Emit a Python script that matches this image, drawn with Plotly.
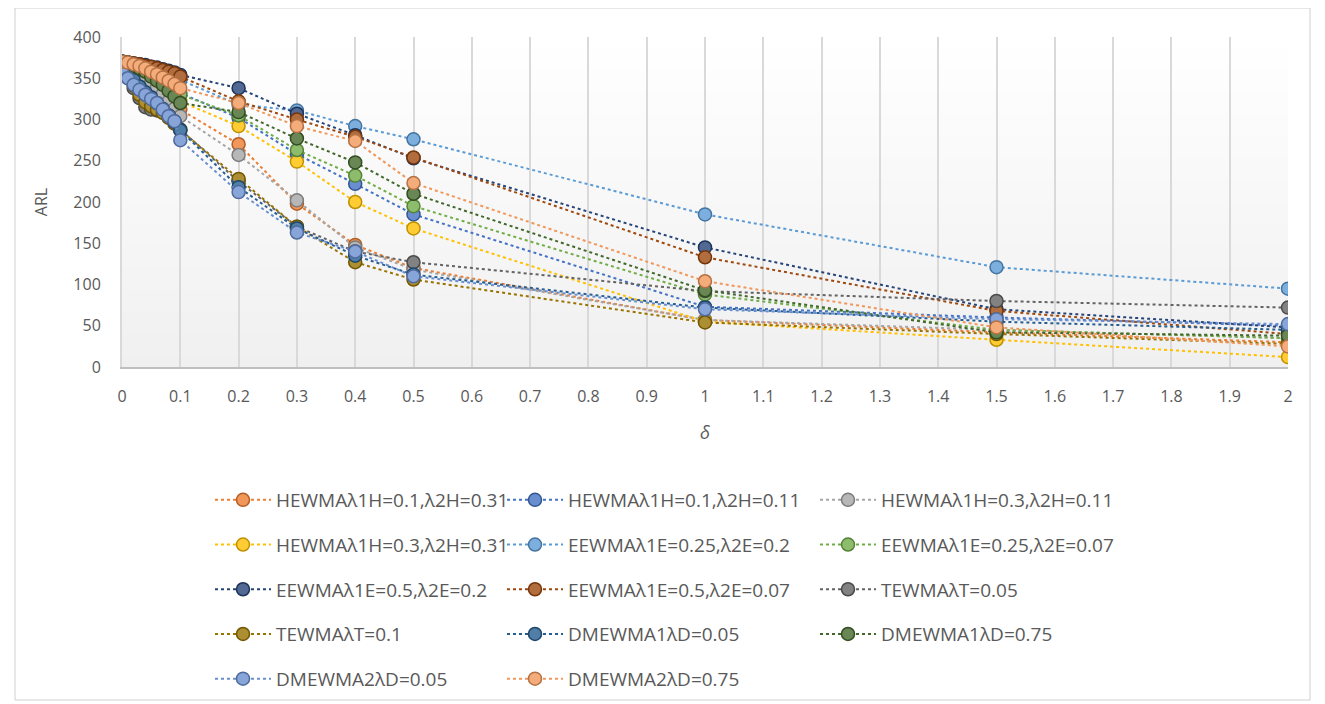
import plotly.graph_objects as go

delta = [0, 0.01, 0.02, 0.03, 0.04, 0.05, 0.06, 0.07, 0.08, 0.09, 0.1, 0.2, 0.3, 0.4, 0.5, 1, 1.5, 2]

series_names = [
    "HEWMA\u03bb1H=0.1,\u03bb2H=0.31",
    "HEWMA\u03bb1H=0.1,\u03bb2H=0.11",
    "HEWMA\u03bb1H=0.3,\u03bb2H=0.11",
    "HEWMA\u03bb1H=0.3,\u03bb2H=0.31",
    "EEWMA\u03bb1E=0.25,\u03bb2E=0.2",
    "EEWMA\u03bb1E=0.25,\u03bb2E=0.07",
    "EEWMA\u03bb1E=0.5,\u03bb2E=0.2",
    "EEWMA\u03bb1E=0.5,\u03bb2E=0.07",
    "TEWMA\u03bbT=0.05",
    "TEWMA\u03bbT=0.1",
    "DMEWMA1\u03bbD=0.05",
    "DMEWMA1\u03bbD=0.75",
    "DMEWMA2\u03bbD=0.05",
    "DMEWMA2\u03bbD=0.75",
]

hewma_01_031 = [370, 368, 366, 364, 361, 358, 354, 349, 343, 336, 312, 270, 198, 148, 120, 57, 42, 30]
hewma_01_011 = [370, 368, 366, 363, 360, 357, 353, 349, 344, 338, 332, 302, 258, 222, 185, 73, 60, 50]
hewma_03_011 = [370, 367, 363, 358, 352, 346, 339, 331, 322, 313, 304, 257, 202, 145, 118, 57, 45, 35]
hewma_03_031 = [370, 368, 365, 362, 358, 354, 349, 343, 337, 330, 322, 292, 249, 200, 168, 55, 33, 12]
eewma_025_02 = [370, 369, 368, 366, 364, 362, 360, 357, 354, 351, 348, 318, 311, 292, 276, 185, 121, 95]
eewma_025_007 = [370, 368, 366, 364, 361, 358, 354, 350, 345, 340, 330, 305, 263, 232, 195, 88, 45, 35]
eewma_05_02 = [370, 369, 368, 367, 366, 364, 363, 361, 359, 357, 354, 338, 307, 281, 253, 145, 70, 48]
eewma_05_007 = [370, 369, 368, 367, 365, 364, 362, 360, 358, 356, 352, 322, 300, 279, 254, 133, 68, 40]
tewma_005 = [370, 352, 338, 326, 315, 312, 311, 310, 305, 298, 288, 225, 170, 140, 127, 92, 80, 72]
tewma_01 = [370, 354, 341, 330, 321, 316, 312, 308, 302, 295, 287, 228, 170, 127, 106, 54, 40, 28]
dmewma1_005 = [370, 358, 348, 340, 333, 327, 320, 313, 305, 297, 287, 218, 168, 135, 112, 72, 55, 45]
dmewma1_075 = [370, 368, 365, 362, 358, 352, 347, 342, 335, 328, 320, 309, 277, 248, 210, 93, 42, 38]
dmewma2_005 = [358, 350, 342, 336, 330, 325, 320, 312, 304, 298, 275, 212, 163, 140, 110, 70, 58, 52]
dmewma2_075 = [370, 369, 367, 365, 362, 358, 355, 351, 347, 343, 338, 320, 292, 274, 223, 104, 48, 25]

series_values = [hewma_01_031, hewma_01_011, hewma_03_011, hewma_03_031, eewma_025_02, eewma_025_007,
                 eewma_05_02, eewma_05_007, tewma_005, tewma_01, dmewma1_005, dmewma1_075,
                 dmewma2_005, dmewma2_075]

colors = ["#ED7D31", "#4472C4", "#A5A5A5", "#FFC000", "#5B9BD5", "#70AD47", "#264478",
          "#9E480E", "#636363", "#997300", "#255E91", "#43682B", "#698ED0", "#F1975A"]

x_ticks = [round(i * 0.1, 1) for i in range(21)]
x_ticktext = ["0", "0.1", "0.2", "0.3", "0.4", "0.5", "0.6", "0.7", "0.8", "0.9", "1",
              "1.1", "1.2", "1.3", "1.4", "1.5", "1.6", "1.7", "1.8", "1.9", "2"]
y_ticks = [0, 50, 100, 150, 200, 250, 300, 350, 400]


def blend(hexc, target, t):
    h = hexc.lstrip("#")
    r, g, b = int(h[0:2], 16), int(h[2:4], 16), int(h[4:6], 16)
    tr, tg, tb = target
    r = round(r + (tr - r) * t)
    g = round(g + (tg - g) * t)
    b = round(b + (tb - b) * t)
    return f"rgb({r},{g},{b})"


fig = go.Figure()
legend_ids = ["legend", "legend2", "legend3"]
for i, (name, vals, col) in enumerate(zip(series_names, series_values, colors)):
    fig.add_trace(go.Scatter(
        x=delta, y=vals, name=name, mode="lines+markers",
        line=dict(color=col, width=2, dash="dot"),
        marker=dict(size=13, color=blend(col, (255, 255, 255), 0.2),
                    line=dict(color=blend(col, (0, 0, 0), 0.25), width=1.5)),
        legend=legend_ids[i % 3], legendgroup=f"g{i}",
    ))

# plot-area coordinates in page pixels (page has an 8px body margin)
FW, FH = 1317, 696
OFF = 8
PL, PR, PT, PB = 122, 1288, 37, 367
PW, PH = PR - PL, PB - PT

# background gradient for plot area
n_bands = 30
for k in range(n_bands):
    t = k / (n_bands - 1)
    v = round(255 - 15 * t)
    fig.add_shape(type="rect", xref="paper", yref="paper",
                  x0=0, x1=1, y0=1 - (k + 1) / n_bands, y1=1 - k / n_bands,
                  fillcolor=f"rgb({v},{v},{v})", line=dict(width=0), layer="below")

# outer chart border
fig.add_shape(type="rect", xref="paper", yref="paper",
              x0=(15 - PL) / PW, x1=(1310 - PL) / PW,
              y0=(PB - 700) / PH, y1=(PB - 8) / PH,
              line=dict(color="#d0d0d0", width=1), fillcolor="rgba(0,0,0,0)")

font_family = "Open Sans, Liberation Sans, sans-serif"
leg_common = dict(orientation="v", yanchor="top", y=(PB - 481) / PH, xanchor="left",
                  bgcolor="rgba(0,0,0,0)", font=dict(family=font_family, size=19, color="#595959"),
                  tracegroupgap=17, itemwidth=56)

fig.update_layout(
    width=FW, height=FH,
    margin=dict(l=PL - OFF, r=FW + OFF - PR, t=PT - OFF, b=FH + OFF - PB, autoexpand=False),
    paper_bgcolor="white", plot_bgcolor="rgba(0,0,0,0)",
    showlegend=True,
    legend=dict(x=(210 - PL) / PW, **leg_common),
    legend2=dict(x=(502 - PL) / PW, **leg_common),
    legend3=dict(x=(815 - PL) / PW, **leg_common),
    xaxis=dict(range=[0, 2], tickvals=x_ticks, ticktext=x_ticktext,
               showgrid=True, gridcolor="#d9d9d9", gridwidth=2,
               showline=True, linecolor="#bfbfbf", linewidth=2,
               zeroline=False, ticks="", ticklabelstandoff=14,
               tickfont=dict(family=font_family, size=16, color="#595959"),
               title=dict(text="<i>\u03b4</i>", font=dict(family=font_family, size=18, color="#595959"),
                          standoff=20)),
    yaxis=dict(range=[0, 400], tickvals=y_ticks, showgrid=False,
               showline=True, linecolor="#d9d9d9", linewidth=2,
               zeroline=False, ticks="", ticklabelstandoff=16,
               tickfont=dict(family=font_family, size=16, color="#595959"),
               title=dict(text="ARL", font=dict(family=font_family, size=16, color="#595959"),
                          standoff=22)),
)

fig.write_html("out.html")
